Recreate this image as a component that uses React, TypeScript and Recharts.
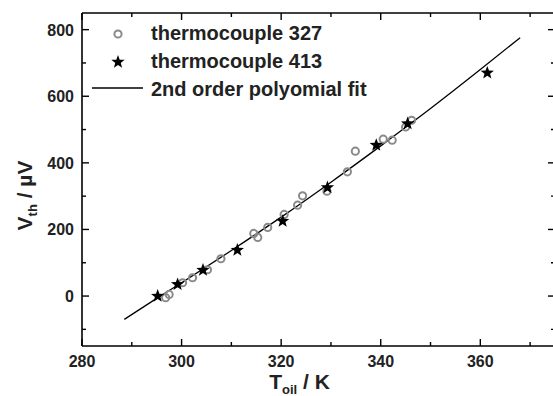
import { ComposedChart, Scatter, Line, XAxis, YAxis, Legend, Label } from 'recharts';

// values
const fitT = [288.5, 295, 300, 310, 320, 330, 340, 350, 360, 368];
const fitV = [-70, -7, 40, 137, 237, 342, 451, 563, 680, 776];

const tc327T = [296.8, 297.5, 300.2, 302.2, 305.2, 307.9, 314.5, 315.3, 317.3, 320.6, 323.3, 324.3, 329.2, 333.3, 334.9, 340.5, 342.3, 345.0, 346.2];
const tc327V = [-5, 5, 40, 55, 79, 112, 188, 176, 206, 245, 273, 301, 315, 373, 435, 471, 468, 508, 528];

const tc413T = [295.2, 299.2, 304.3, 311.2, 320.3, 329.3, 339.1, 345.4, 361.4];
const tc413V = [0, 35, 78, 138, 225, 326, 453, 518, 670];

const xMajor = [280, 300, 320, 340, 360];
const xMinor = [290, 310, 330, 350, 370];
const yMajor = [0, 200, 400, 600, 800];
const yMinor = [-100, 100, 300, 500, 700];

const xTicks = [...xMajor, ...xMinor].sort((a, b) => a - b);
const yTicks = [...yMajor, ...yMinor].sort((a, b) => a - b);

const fitData = fitT.map((t, i) => ({ t, v: fitV[i] }));
const tc327 = tc327T.map((t, i) => ({ t, v: tc327V[i] }));
const tc413 = tc413T.map((t, i) => ({ t, v: tc413V[i] }));

const FONT = '"Liberation Sans", Arial, Helvetica, sans-serif';
const TXT = '#222';
const GREY = '#8a8a8a';
const axisLine = { stroke: '#000', strokeWidth: 1.6 };

function starPoints(cx: number, cy: number, ro: number, ri: number) {
  const pts: string[] = [];
  for (let i = 0; i < 10; i++) {
    const r = i % 2 === 0 ? ro : ri;
    const a = -Math.PI / 2 + (i * Math.PI) / 5;
    pts.push(`${cx + r * Math.cos(a)},${cy + r * Math.sin(a)}`);
  }
  return pts.join(' ');
}

const Ring = ({ cx, cy }: any) => (
  <circle cx={cx} cy={cy} r={3.6} fill="none" stroke={GREY} strokeWidth={2} />
);

const Star = ({ cx, cy }: any) => <polygon points={starPoints(cx, cy, 7, 2.9)} fill="#000" />;

const BottomTick = ({ x, y, payload }: any) => {
  const major = xMajor.includes(payload.value);
  return (
    <g>
      <line x1={x} x2={x} y1={y} y2={y - (major ? 7 : 4)} stroke="#000" strokeWidth={1.4} />
      {major && (
        <text x={x} y={y + 21} textAnchor="middle" fontSize={16} fontWeight="bold" fill={TXT} fontFamily={FONT}>
          {payload.value}
        </text>
      )}
    </g>
  );
};

const TopTick = ({ x, y, payload }: any) => {
  const major = xMajor.includes(payload.value);
  return <line x1={x} x2={x} y1={y} y2={y + (major ? 7 : 4)} stroke="#000" strokeWidth={1.4} />;
};

const LeftTick = ({ x, y, payload }: any) => {
  const major = yMajor.includes(payload.value);
  return (
    <g>
      <line x1={x} x2={x + (major ? 7 : 4)} y1={y} y2={y} stroke="#000" strokeWidth={1.4} />
      {major && (
        <text x={x - 8} y={y + 6} textAnchor="end" fontSize={16} fontWeight="bold" fill={TXT} fontFamily={FONT}>
          {payload.value}
        </text>
      )}
    </g>
  );
};

const RightTick = ({ x, y, payload }: any) => {
  const major = yMajor.includes(payload.value);
  return <line x1={x} x2={x - (major ? 7 : 4)} y1={y} y2={y} stroke="#000" strokeWidth={1.4} />;
};

const XTitle = ({ viewBox }: any) => {
  const cx = viewBox.x + viewBox.width / 2 - 19;
  const y = viewBox.y + 43;
  return (
    <text x={cx} y={y} textAnchor="middle" fontSize={21} fontWeight="bold" fill={TXT} fontFamily={FONT}>
      T
      <tspan fontSize={13} dy={5}>oil</tspan>
      <tspan dy={-5}> / K</tspan>
    </text>
  );
};

const YTitle = ({ viewBox }: any) => {
  const x = viewBox.x + 32;
  const y = viewBox.y + viewBox.height / 2 + 16;
  return (
    <text
      x={x}
      y={y}
      transform={`rotate(-90, ${x}, ${y})`}
      textAnchor="middle"
      fontSize={21}
      fontWeight="bold"
      fill={TXT}
      fontFamily={FONT}
    >
      V
      <tspan fontSize={13} dy={5}>th</tspan>
      <tspan dy={-5}> / µV</tspan>
    </text>
  );
};

const LegendBox = () => (
  <svg width={400} height={104} style={{ display: 'block' }}>
    <circle cx={118} cy={34} r={3.6} fill="none" stroke={GREY} strokeWidth={2} />
    <polygon points={starPoints(118, 62, 7, 2.9)} fill="#000" />
    <line x1={92} x2={143} y1={88} y2={88} stroke="#000" strokeWidth={1.3} />
    <g fontSize={20} fontWeight="bold" fill={TXT} fontFamily={FONT}>
      <text x={151} y={40}>thermocouple 327</text>
      <text x={151} y={68}>thermocouple 413</text>
      <text x={151} y={96}>2nd order polyomial fit</text>
    </g>
  </svg>
);

export default function App() {
  return (
    <div
      style={{
        position: 'absolute',
        left: 0,
        top: 0,
        width: 553,
        height: 396,
        overflow: 'hidden',
        background: '#fff',
      }}
    >
      <ComposedChart width={560} height={396} margin={{ top: 12, right: 0, bottom: 0, left: 0 }}>
        <XAxis
          xAxisId="b"
          type="number"
          dataKey="t"
          domain={[280, 375]}
          ticks={xTicks}
          interval={0}
          tickSize={0}
          tickMargin={0}
          tickLine={false}
          tick={BottomTick}
          axisLine={axisLine}
          height={50}
          allowDataOverflow
        >
          <Label content={XTitle} />
        </XAxis>
        <XAxis
          xAxisId="t"
          orientation="top"
          type="number"
          dataKey="t"
          domain={[280, 375]}
          ticks={xTicks}
          interval={0}
          tickSize={0}
          tickMargin={0}
          tickLine={false}
          tick={TopTick}
          axisLine={axisLine}
          height={1}
          allowDataOverflow
        />
        <YAxis
          yAxisId="l"
          type="number"
          dataKey="v"
          domain={[-150, 850]}
          ticks={yTicks}
          interval={0}
          tickSize={0}
          tickMargin={0}
          tickLine={false}
          tick={LeftTick}
          axisLine={axisLine}
          width={82}
          allowDataOverflow
        >
          <Label content={YTitle} />
        </YAxis>
        <YAxis
          yAxisId="r"
          orientation="right"
          type="number"
          dataKey="v"
          domain={[-150, 850]}
          ticks={yTicks}
          interval={0}
          tickSize={0}
          tickMargin={0}
          tickLine={false}
          tick={RightTick}
          axisLine={axisLine}
          width={5}
          allowDataOverflow
        />
        <Legend
          layout="vertical"
          align="center"
          verticalAlign="middle"
          content={LegendBox}
          wrapperStyle={{ left: 0, top: 0, width: 400, height: 104 }}
        />
        <Line
          xAxisId="t"
          yAxisId="r"
          data={fitData}
          dataKey="v"
          type="monotone"
          dot={false}
          stroke="#000"
          strokeWidth={1.3}
          isAnimationActive={false}
          legendType="line"
          name="2nd order polyomial fit"
        />
        <Scatter
          xAxisId="b"
          yAxisId="l"
          data={tc327}
          dataKey="v"
          shape={Ring}
          isAnimationActive={false}
          name="thermocouple 327"
        />
        <Scatter
          xAxisId="b"
          yAxisId="l"
          data={tc413}
          dataKey="v"
          shape={Star}
          isAnimationActive={false}
          name="thermocouple 413"
        />
      </ComposedChart>
    </div>
  );
}
